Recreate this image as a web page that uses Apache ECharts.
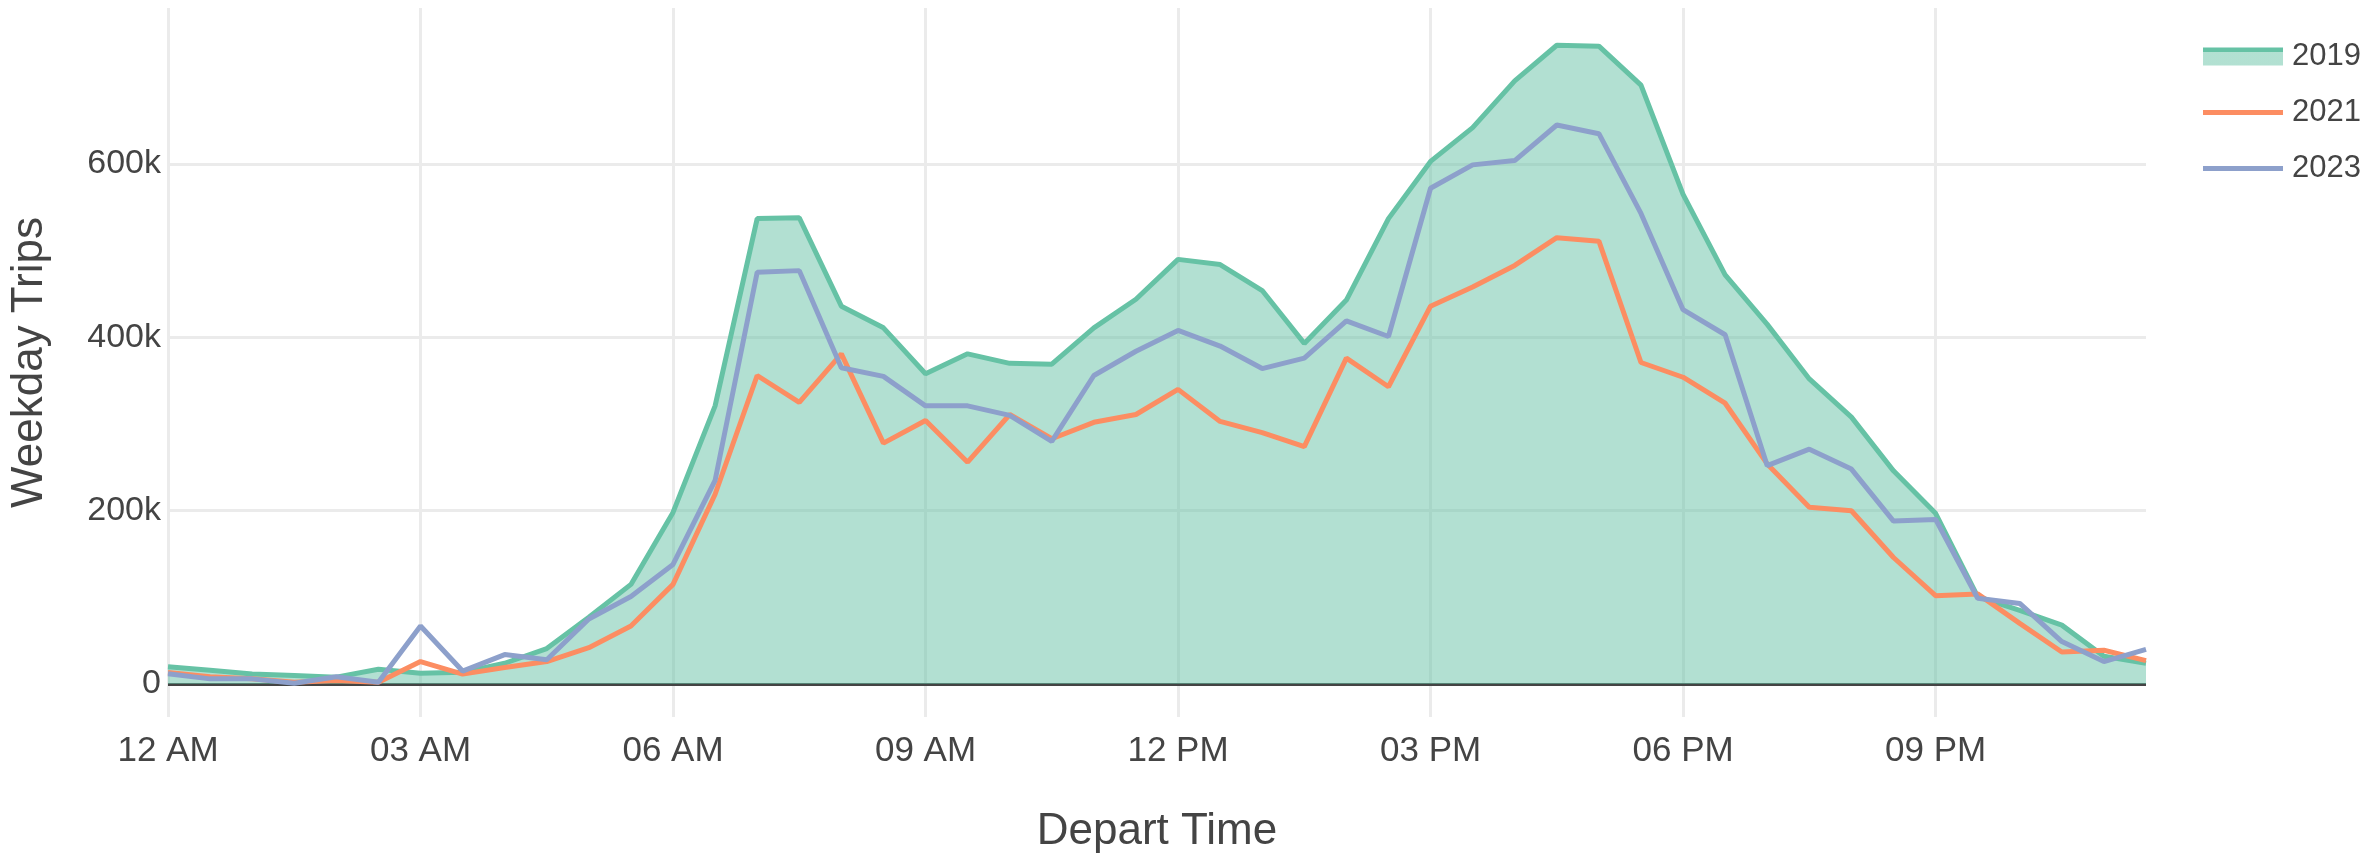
<!DOCTYPE html>
<html>
<head>
<meta charset="utf-8">
<script src="https://cdn.jsdelivr.net/npm/echarts@6/dist/echarts.min.js"></script>
<style>
  html, body { margin: 0; padding: 0; background: #fff; }
  #chart { width: 2365px; height: 861px; }
</style>
</head>
<body>
<div id="chart"></div>
<script>
// half-hour departure slots
const times = [
  '00:00', '00:30', '01:00', '01:30', '02:00', '02:30', '03:00', '03:30',
  '04:00', '04:30', '05:00', '05:30', '06:00', '06:30', '07:00', '07:30',
  '08:00', '08:30', '09:00', '09:30', '10:00', '10:30', '11:00', '11:30',
  '12:00', '12:30', '13:00', '13:30', '14:00', '14:30', '15:00', '15:30',
  '16:00', '16:30', '17:00', '17:30', '18:00', '18:30', '19:00', '19:30',
  '20:00', '20:30', '21:00', '21:30', '22:00', '22:30', '23:00', '23:30'
];

const tickLabels = {
  '00:00': '12 AM', '03:00': '03 AM', '06:00': '06 AM', '09:00': '09 AM',
  '12:00': '12 PM', '15:00': '03 PM', '18:00': '06 PM', '21:00': '09 PM'
};

const yTicks = [0, 200000, 400000, 600000];

// weekday trips per slot
const trips2019 = [
  20000, 16000, 11500, 10000, 8000, 17000, 12500, 13500,
  24000, 41000, 77000, 115000, 198000, 321000, 537000, 538000,
  436000, 411000, 358000, 381000, 370000, 369000, 411000, 444000,
  490000, 484000, 454000, 393000, 443000, 537000, 603000, 642000,
  696000, 737000, 736000, 691000, 565000, 472000, 415000, 352000,
  308000, 246000, 197000, 101000, 85000, 68000, 32000, 24000
];
const trips2021 = [
  13500, 8500, 6000, 2000, 4000, 2000, 26000, 11500,
  19000, 26000, 42000, 67000, 115000, 219000, 356000, 325000,
  381000, 278000, 304000, 256000, 311000, 283000, 302000, 311000,
  340000, 303000, 290000, 274000, 376000, 343000, 436000, 458000,
  483000, 515000, 511000, 371000, 354000, 324000, 254000, 204000,
  200000, 146000, 102000, 104000, 70000, 37000, 39000, 27000
];
const trips2023 = [
  12000, 6000, 6000, 1000, 8500, 2000, 67000, 15000,
  34000, 28000, 75000, 101000, 138000, 235000, 475000, 477000,
  365000, 355000, 321000, 321000, 310000, 280000, 356000, 384000,
  408000, 390000, 364000, 376000, 419000, 401000, 572000, 599000,
  604000, 645000, 635000, 543000, 432000, 403000, 252000, 271000,
  248000, 188000, 190000, 99000, 93000, 49000, 26000, 40000
];

const GREEN = '#66c2a5';
const GREEN_FILL = 'rgba(102,194,165,0.5)';
const ORANGE = '#fc8d62';
const BLUE = '#8da0cb';
const TEXT = '#444';
const GRID = '#ebebeb';
const FONT = "'Liberation Sans', Arial, sans-serif";

// legend swatch: a coloured band across the middle of the icon
function band(color, from, to) {
  return {
    type: 'linear', x: 0, y: 0, x2: 0, y2: 1,
    colorStops: [
      { offset: 0, color: 'rgba(255,255,255,0)' },
      { offset: from, color: 'rgba(255,255,255,0)' },
      { offset: from, color: color },
      { offset: to, color: color },
      { offset: to, color: 'rgba(255,255,255,0)' },
      { offset: 1, color: 'rgba(255,255,255,0)' }
    ]
  };
}

const chart = echarts.init(document.getElementById('chart'), null, { renderer: 'canvas' });

const option = {
  backgroundColor: '#fff',
  animation: false,
  grid: { left: 168, right: 219, top: 8, bottom: 144, containLabel: false },
  legend: {
    orient: 'vertical',
    left: 2198,
    top: 36,
    itemWidth: 80,
    itemHeight: 18,
    itemGap: 25,
    textStyle: { color: TEXT, fontSize: 31, fontFamily: FONT, padding: [0, 0, 0, 4] },
    data: [
      {
        name: '2019', icon: 'rect',
        itemStyle: {
          borderWidth: 0,
          color: {
            type: 'linear', x: 0, y: 0, x2: 0, y2: 1,
            colorStops: [
              { offset: 0, color: GREEN },
              { offset: 0.26, color: GREEN },
              { offset: 0.26, color: GREEN_FILL },
              { offset: 1, color: GREEN_FILL }
            ]
          }
        }
      },
      { name: '2021', icon: 'rect', itemStyle: { borderWidth: 0, color: band(ORANGE, 0.36, 0.64) } },
      { name: '2023', icon: 'rect', itemStyle: { borderWidth: 0, color: band(BLUE, 0.36, 0.64) } }
    ]
  },
  xAxis: {
    type: 'category',
    data: times,
    boundaryGap: false,
    name: 'Depart Time',
    nameLocation: 'middle',
    nameGap: 93,
    nameTextStyle: { color: TEXT, fontSize: 44, fontFamily: FONT },
    axisLine: { show: false },
    axisTick: { show: false },
    axisLabel: {
      interval: 5,
      margin: 17,
      color: TEXT,
      fontSize: 35,
      fontFamily: FONT,
      formatter: function (v) { return tickLabels[v] || ''; }
    },
    splitLine: { show: true, interval: 5, lineStyle: { color: GRID, width: 3 } }
  },
  yAxis: {
    type: 'value',
    min: -38000,
    max: 780000,
    name: 'Weekday Trips',
    nameLocation: 'middle',
    nameGap: 116,
    nameTextStyle: { color: TEXT, fontSize: 44, fontFamily: FONT },
    axisLine: { show: false },
    axisTick: { show: false },
    splitLine: { show: false },
    axisLabel: {
      customValues: yTicks,
      margin: 7,
      color: TEXT,
      fontSize: 34,
      fontFamily: FONT,
      formatter: function (v) { return v === 0 ? '0' : (v / 1000) + 'k'; }
    }
  },
  series: [
    {
      name: '2019',
      type: 'line',
      data: trips2019,
      symbol: 'none',
      z: 2,
      lineStyle: { color: GREEN, width: 5 },
      itemStyle: { color: GREEN },
      areaStyle: { color: GREEN_FILL, opacity: 1, origin: 'auto' },
      markLine: {
        silent: true,
        z: 1,
        symbol: 'none',
        label: { show: false },
        lineStyle: { color: GRID, width: 3, type: 'solid' },
        data: yTicks.filter(function (t) { return t > 0; }).map(function (t) { return { yAxis: t }; })
      }
    },
    {
      name: '2021',
      type: 'line',
      data: trips2021,
      symbol: 'none',
      z: 3,
      lineStyle: { color: ORANGE, width: 5 },
      itemStyle: { color: ORANGE }
    },
    {
      name: '2023',
      type: 'line',
      data: trips2023,
      symbol: 'none',
      z: 4,
      lineStyle: { color: BLUE, width: 5 },
      itemStyle: { color: BLUE },
      markLine: {
        silent: true,
        z: 1,
        symbol: 'none',
        label: { show: false },
        lineStyle: { color: '#444', width: 3, type: 'solid' },
        data: [{ yAxis: 0 }]
      }
    }
  ]
};

chart.setOption(option);
</script>
</body>
</html>
